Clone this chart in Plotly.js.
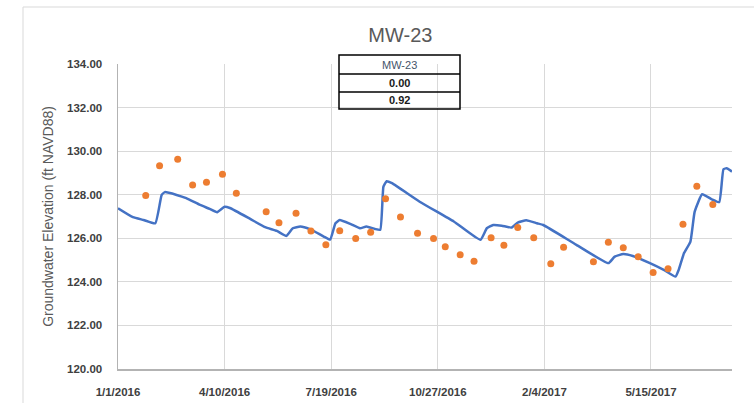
<!DOCTYPE html>
<html>
<head>
<meta charset="utf-8">
<script src="https://cdn.plot.ly/plotly-3.0.1.min.js"></script>
<style>
  html, body { margin: 0; padding: 0; background: #fff; }
  #chart { width: 754px; height: 403px; }
</style>
</head>
<body>
<div id="chart"></div>
<script>
// Transducer (continuous) record
const lineDates = [
  '2016-01-01','2016-01-15','2016-01-25','2016-02-05','2016-02-11','2016-02-14','2016-02-25',
  '2016-03-05','2016-03-18','2016-03-27','2016-04-03','2016-04-10','2016-04-15','2016-05-04',
  '2016-05-18','2016-05-29','2016-06-07','2016-06-13','2016-06-20','2016-06-29','2016-07-12',
  '2016-07-18','2016-07-23','2016-07-27','2016-08-06','2016-08-15','2016-08-21','2016-08-29',
  '2016-09-03','2016-09-06','2016-09-09','2016-09-14','2016-10-10','2016-11-11','2016-12-06',
  '2016-12-12','2016-12-18','2016-12-26','2017-01-04','2017-01-10','2017-01-18','2017-01-28',
  '2017-02-03','2017-03-06','2017-04-05','2017-04-11','2017-04-19','2017-04-28','2017-05-14',
  '2017-05-27','2017-06-07','2017-06-10','2017-06-15','2017-06-21','2017-06-25','2017-07-02',
  '2017-07-11','2017-07-18','2017-07-22','2017-07-25','2017-07-30'
];
const lineValues = [
  127.38,126.97,126.84,126.69,127.99,128.12,127.99,
  127.84,127.53,127.35,127.20,127.45,127.39,126.89,
  126.51,126.34,126.11,126.46,126.54,126.42,126.08,
  125.94,126.69,126.84,126.66,126.46,126.54,126.43,
  126.39,128.37,128.62,128.53,127.68,126.77,125.93,
  126.46,126.61,126.58,126.49,126.72,126.83,126.69,
  126.61,125.70,124.86,125.16,125.28,125.19,124.86,
  124.55,124.24,124.55,125.32,125.85,127.22,128.02,
  127.79,127.66,129.17,129.21,129.06
];

// Manual measurements (dots)
const dotDates = [
  '2016-01-27','2016-02-09','2016-02-26','2016-03-11','2016-03-24','2016-04-08','2016-04-21',
  '2016-05-19','2016-05-31','2016-06-16','2016-06-30','2016-07-14','2016-07-27','2016-08-11',
  '2016-08-25','2016-09-08','2016-09-22','2016-10-08','2016-10-23','2016-11-03','2016-11-17',
  '2016-11-30','2016-12-16','2016-12-28','2017-01-10','2017-01-25','2017-02-10','2017-02-22',
  '2017-03-22','2017-04-05','2017-04-19','2017-05-03','2017-05-17','2017-05-31','2017-06-14',
  '2017-06-27','2017-07-12'
];
const dotValues = [
  127.96,129.33,129.63,128.45,128.57,128.94,128.07,
  127.22,126.71,127.15,126.34,125.70,126.35,125.99,
  126.28,127.82,126.98,126.23,125.99,125.61,125.24,
  124.95,126.03,125.68,126.49,126.03,124.83,125.59,
  124.92,125.82,125.56,125.15,124.43,124.60,126.65,
  128.39,127.55
];

const chartTitle = 'MW-23';
const yTitle = 'Groundwater Elevation (ft NAVD88)';
const tableRows = ['MW-23', '0.00', '0.92'];
const yTicks = [120, 122, 124, 126, 128, 130, 132, 134];
const yTickLabels = ['120.00','122.00','124.00','126.00','128.00','130.00','132.00','134.00'];

// layout geometry (pixels)
const W = 754, H = 403;
const L = 118, R = 732, T = 64, B = 369;
const pw = R - L, ph = B - T;
const px = x => (x - L) / pw;
const py = y => (B - y) / ph;

const shapes = [
  // chart border
  {type:'rect', xref:'paper', yref:'paper', x0:px(23), x1:px(800), y0:py(430), y1:py(7),
   line:{color:'#d9d9d9', width:1}, fillcolor:'rgba(0,0,0,0)', layer:'below'},
];
// little table
const tx0 = px(339), tx1 = px(460);
const rowY = [55, 74, 92, 109];
shapes.push({type:'rect', xref:'paper', yref:'paper', x0:tx0, x1:tx1, y0:py(rowY[3]), y1:py(rowY[0]),
  line:{color:'#000', width:1.5}, fillcolor:'rgba(0,0,0,0)'});
for (let i = 1; i < 3; i++) {
  shapes.push({type:'line', xref:'paper', yref:'paper', x0:tx0, x1:tx1, y0:py(rowY[i]), y1:py(rowY[i]),
    line:{color:'#000', width:1.5}});
}
const annotations = tableRows.map((t, i) => ({
  text: t, xref:'paper', yref:'paper', x:(tx0+tx1)/2, y:py((rowY[i]+rowY[i+1])/2),
  showarrow:false, xanchor:'center', yanchor:'middle',
  font:{family:'Liberation Sans, Arial, sans-serif', size:11, color: i === 0 ? '#44546a' : '#1a1a1a', weight: i === 0 ? 'normal' : 'bold'}
}));

const data = [
  {x: lineDates, y: lineValues, type:'scatter', mode:'lines', name:'Transducer',
   line:{color:'#4472C4', width:2.5, shape:'spline', smoothing:0.4}, hoverinfo:'x+y'},
  {x: dotDates, y: dotValues, type:'scatter', mode:'markers', name:'Manual',
   marker:{color:'#ED7D31', size:7}, hoverinfo:'x+y'}
];

const layout = {
  width: W, height: H,
  margin: {l: L, r: W - R, t: T, b: H - B, pad: 0},
  paper_bgcolor:'#fff', plot_bgcolor:'#fff',
  showlegend:false,
  title: {text: chartTitle, x: 0.531, xanchor:'center', y: 1 - 35/H, yanchor:'middle',
          font:{family:'Liberation Sans, Arial, sans-serif', size:20, color:'#595959'}},
  xaxis: {
    type:'date', range:['2016-01-01','2017-07-30'],
    tick0:'2016-01-01', dtick: 86400000*100, tickformat:'%-m/%-d/%Y',
    showgrid:true, gridcolor:'#d9d9d9', gridwidth:1,
    showline:true, linecolor:'#b3b3b3', linewidth:1.5,
    ticks:'', ticklabelstandoff: 12, zeroline:false,
    tickfont:{family:'Liberation Sans, Arial, sans-serif', size:11.5, color:'#404040', weight:'bold'}
  },
  yaxis: {
    range:[120, 134], tickvals: yTicks, ticktext: yTickLabels,
    showgrid:true, gridcolor:'#d9d9d9', gridwidth:1,
    showline:true, linecolor:'#b3b3b3', linewidth:1.5,
    ticks:'', ticklabelstandoff: 12, zeroline:false,
    tickfont:{family:'Liberation Sans, Arial, sans-serif', size:11.5, color:'#404040', weight:'bold'},
    title:{text: yTitle, standoff: 10,
           font:{family:'Liberation Sans, Arial, sans-serif', size:14, color:'#595959'}}
  },
  shapes: shapes,
  annotations: annotations
};

Plotly.newPlot('chart', data, layout, {displayModeBar:false, staticPlot:true});
</script>
</body>
</html>
